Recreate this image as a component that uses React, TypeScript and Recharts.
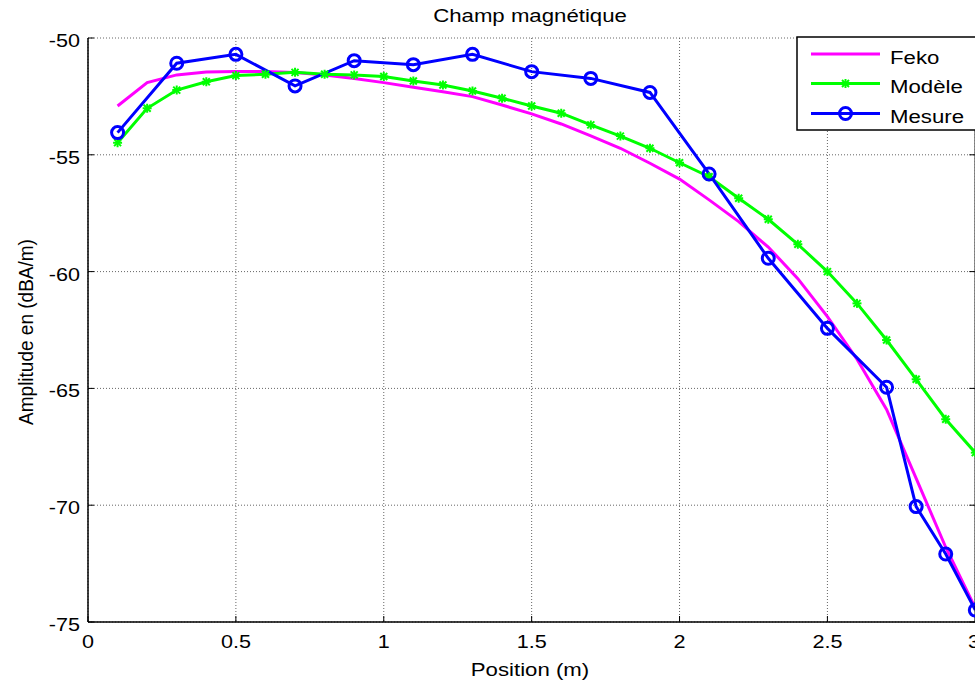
import React from 'react';
import { LineChart, Line, XAxis, YAxis, CartesianGrid } from 'recharts';

// ---- Data ----
const positions = [0.1, 0.2, 0.3, 0.4, 0.5, 0.6, 0.7, 0.8, 0.9, 1.0, 1.1, 1.2, 1.3, 1.4, 1.5, 1.6, 1.7, 1.8, 1.9, 2.0, 2.1, 2.2, 2.3, 2.4, 2.5, 2.6, 2.7, 2.8, 2.9, 3.0];
const fekoValues = [-52.91, -51.91, -51.58, -51.46, -51.43, -51.43, -51.48, -51.58, -51.73, -51.91, -52.11, -52.3, -52.51, -52.87, -53.25, -53.68, -54.19, -54.72, -55.36, -56.04, -56.93, -57.86, -58.95, -60.3, -61.93, -63.75, -65.9, -68.85, -71.8, -74.4];
const modeleValues = [-54.48, -53.01, -52.23, -51.87, -51.61, -51.55, -51.47, -51.55, -51.58, -51.65, -51.84, -52.01, -52.27, -52.58, -52.91, -53.22, -53.72, -54.2, -54.72, -55.34, -55.94, -56.86, -57.76, -58.83, -60.0, -61.36, -62.93, -64.61, -66.32, -67.75];
const mesurePositions = [0.1, 0.3, 0.5, 0.7, 0.9, 1.1, 1.3, 1.5, 1.7, 1.9, 2.1, 2.3, 2.5, 2.7, 2.8, 2.9, 3.0];
const mesureValues = [-54.05, -51.08, -50.7, -52.05, -50.97, -51.14, -50.7, -51.44, -51.73, -52.33, -55.82, -59.43, -62.43, -64.95, -70.06, -72.09, -74.49];

const xTicks = [0, 0.5, 1, 1.5, 2, 2.5, 3];
const yTicks = [-75, -70, -65, -60, -55, -50];
const seriesNames = ['Feko', 'Modèle', 'Mesure'];
const seriesColors = ['#FF00FF', '#00FF00', '#0000FF'];
const titleText = 'Champ magnétique';
const xLabelText = 'Position (m)';
const yLabelText = 'Amplitude en (dBA/m)';

const fekoData = positions.map((x, i) => ({ x, y: fekoValues[i] }));
const modeleData = positions.map((x, i) => ({ x, y: modeleValues[i] }));
const mesureData = mesurePositions.map((x, i) => ({ x, y: mesureValues[i] }));

// ---- Style ----
const FONT = '"Liberation Sans", Arial, sans-serif';
const SX = 1.2;
const W = 975;
const H = 681;
const CHART_W = 978;
const PLOT_LEFT = 88;
const PLOT_TOP = 38;
const PLOT_BOTTOM = 622;
const PLOT_RIGHT = 975.3;
const PLOT_CX = (88 + 974) / 2;

const XTick = (props: any) => {
  const { x, payload } = props;
  return (
    <text
      x={0}
      y={0}
      transform={`translate(${x},${PLOT_BOTTOM + 25.5}) scale(${SX},1)`}
      textAnchor="middle"
      fontSize={18}
      fontFamily={FONT}
      fill="#000"
    >
      {payload.value}
    </text>
  );
};

const YTick = (props: any) => {
  const { y, payload } = props;
  return (
    <text
      x={0}
      y={0}
      transform={`translate(${PLOT_LEFT - 8},${y + 9}) scale(${SX},1)`}
      textAnchor="end"
      fontSize={18}
      fontFamily={FONT}
      fill="#000"
    >
      {payload.value}
    </text>
  );
};

const EmptyTick = () => <g />;

const StarMark = ({ cx, cy, color }: { cx: number; cy: number; color: string }) => {
  const s = 3.5;
  return (
    <g stroke={color} strokeWidth={2} fill="none">
      <line x1={cx - s} y1={cy - s} x2={cx + s} y2={cy + s} />
      <line x1={cx - s} y1={cy + s} x2={cx + s} y2={cy - s} />
      <line x1={cx} y1={cy - s - 1} x2={cx} y2={cy + s + 1} />
      <line x1={cx - s - 1} y1={cy} x2={cx + s + 1} y2={cy} />
    </g>
  );
};

const StarDot = (props: any) => {
  const { cx, cy, index } = props;
  if (cx == null || cy == null) return <g key={`s-${index}`} />;
  return (
    <g key={`s-${index}`}>
      <StarMark cx={cx} cy={cy} color={seriesColors[1]} />
    </g>
  );
};

export default function App() {
  return (
    <div
      style={{
        position: 'absolute',
        left: 0,
        top: 0,
        width: W,
        height: H,
        overflow: 'hidden',
        background: '#fff',
      }}
    >
      <LineChart
        width={CHART_W}
        height={H}
        margin={{ top: PLOT_TOP, right: 0, left: 0, bottom: 0 }}
      >
        <CartesianGrid stroke="#666" strokeDasharray="1 2" strokeWidth={1} />
        <XAxis
          dataKey="x"
          type="number"
          domain={[0, 3]}
          ticks={xTicks}
          allowDataOverflow
          height={H - PLOT_BOTTOM}
          tickSize={-6}
          tick={XTick}
          axisLine={{ stroke: '#000', strokeWidth: 1.5 }}
          tickLine={{ stroke: '#000', strokeWidth: 1 }}
        />
        <XAxis
          xAxisId="top"
          orientation="top"
          type="number"
          domain={[0, 3]}
          ticks={xTicks}
          allowDataOverflow
          height={0}
          tickSize={-6}
          tick={EmptyTick}
          axisLine={{ stroke: '#000', strokeWidth: 1.5 }}
          tickLine={{ stroke: '#000', strokeWidth: 1 }}
        />
        <YAxis
          type="number"
          domain={[-75, -50]}
          ticks={yTicks}
          allowDataOverflow
          width={PLOT_LEFT}
          tickSize={-6}
          tick={YTick}
          axisLine={{ stroke: '#000', strokeWidth: 1.5 }}
          tickLine={{ stroke: '#000', strokeWidth: 1 }}
        />
        <YAxis
          yAxisId="right"
          orientation="right"
          type="number"
          domain={[-75, -50]}
          ticks={yTicks}
          allowDataOverflow
          width={CHART_W - PLOT_RIGHT}
          tickSize={-6}
          tick={EmptyTick}
          axisLine={{ stroke: '#000', strokeWidth: 1.5 }}
          tickLine={{ stroke: '#000', strokeWidth: 1 }}
        />
        <Line
          data={fekoData}
          dataKey="y"
          name={seriesNames[0]}
          type="linear"
          stroke={seriesColors[0]}
          strokeWidth={3}
          dot={false}
          isAnimationActive={false}
        />
        <Line
          data={modeleData}
          dataKey="y"
          name={seriesNames[1]}
          type="linear"
          stroke={seriesColors[1]}
          strokeWidth={3}
          dot={StarDot}
          isAnimationActive={false}
        />
        <Line
          data={mesureData}
          dataKey="y"
          name={seriesNames[2]}
          type="linear"
          stroke={seriesColors[2]}
          strokeWidth={3}
          dot={{ r: 6, stroke: seriesColors[2], strokeWidth: 3, fill: 'none' }}
          isAnimationActive={false}
        />
      </LineChart>
      <svg
        width={W}
        height={H}
        style={{ position: 'absolute', left: 0, top: 0, pointerEvents: 'none' }}
      >
        <text
          x={0}
          y={0}
          transform={`translate(${PLOT_CX - 1},21.5) scale(${SX},1)`}
          textAnchor="middle"
          fontSize={18.5}
          fontFamily={FONT}
          fill="#000"
        >
          {titleText}
        </text>
        <text
          x={0}
          y={0}
          transform={`translate(${PLOT_CX - 1},676) scale(${SX},1)`}
          textAnchor="middle"
          fontSize={18.5}
          fontFamily={FONT}
          fill="#000"
        >
          {xLabelText}
        </text>
        <text
          x={0}
          y={0}
          transform={`translate(33,${(PLOT_TOP + PLOT_BOTTOM) / 2 + 2}) rotate(-90) scale(1,1.1)`}
          textAnchor="middle"
          fontSize={19}
          fontFamily={FONT}
          fill="#000"
        >
          {yLabelText}
        </text>
        {/* Legend */}
        <rect x={797} y={37} width={190} height={93} fill="#fff" stroke="#000" strokeWidth={1.5} />
        {seriesNames.map((name, i) => {
          const ly = [54, 83.5, 113.5][i];
          return (
            <g key={name}>
              <line x1={811} y1={ly} x2={880} y2={ly} stroke={seriesColors[i]} strokeWidth={3} />
              {i === 1 && <StarMark cx={845.5} cy={ly} color={seriesColors[1]} />}
              {i === 2 && (
                <circle cx={845.5} cy={ly} r={6} fill="none" stroke={seriesColors[2]} strokeWidth={3} />
              )}
              <text
                x={0}
                y={0}
                transform={`translate(890,${ly + 9.5}) scale(${SX},1)`}
                fontSize={18.5}
                fontFamily={FONT}
                fill="#000"
              >
                {name}
              </text>
            </g>
          );
        })}
      </svg>
    </div>
  );
}
